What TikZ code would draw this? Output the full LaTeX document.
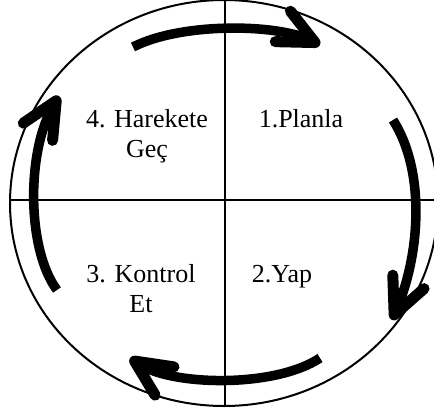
\documentclass[tikz,border=0pt]{standalone}
\usepackage{fontspec}
\setmainfont{Liberation Serif}
\usetikzlibrary{arrows.meta}

\begin{document}
\begin{tikzpicture}[
    x=1pt, y=-1pt,
    frame/.style={draw, line width=2pt},
    stage/.style={font=\fontsize{26}{30}\selectfont, align=center, inner sep=0pt},
    turn/.style={-{Straight Barb[length=36pt, width=34pt, line width=11pt, round]}, line width=9.5pt}
  ]
    \useasboundingbox (0,0) rectangle (434,413);
    % outer ring and the two axes
    \coordinate (mid) at (224,203);
    \draw[frame] (mid) ellipse [x radius=214, y radius=203];
    \draw[frame] (225,0) -- (225,406);
    \draw[frame] (10,200) -- (438,200);
    % the four steps
    \node[stage, anchor=base] (plan) at (301,127) {1.Planla};
    \node[stage, anchor=base] (do) at (282,282) {2.Yap};
    \node[stage, anchor=base] (check) at (141,312) {3. Kontrol\\Et};
    \node[stage, anchor=base] (act) at (147,157) {4. Harekete\\Geç};
    % the cycle
    \draw[turn] (133,47) .. controls (182,22) and (278,24) .. (320,45);
    \draw[turn] (393,120) .. controls (426,172) and (420,255) .. (392,320);
    \draw[turn] (320,358) .. controls (275,388) and (172,386) .. (130,358);
    \draw[turn] (57,290) .. controls (27,250) and (26,152) .. (59,96);
  \end{tikzpicture}
\end{document}
